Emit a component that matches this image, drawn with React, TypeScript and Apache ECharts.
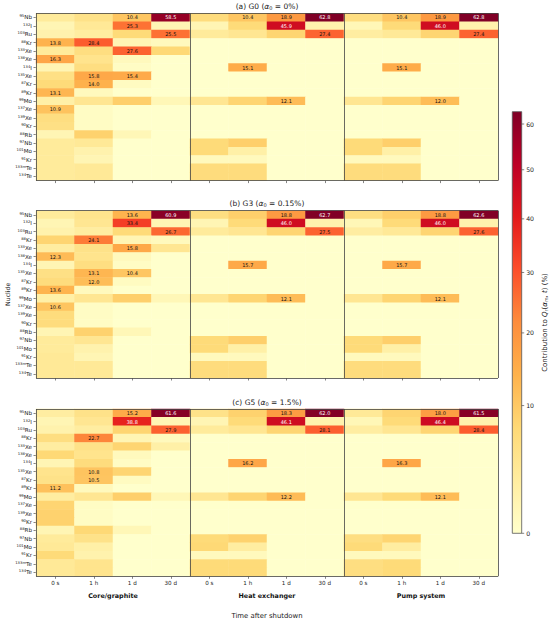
import React, { useEffect, useRef } from 'react';
import * as echarts from 'echarts';

const FONT = 'DejaVu Sans';

const NUC_MASS = ['95', '132', '103', '88', '133', '138', '134', '135', '87', '89', '99', '137', '139', '90', '88', '97', '101', '91', '133m', '134'];
const NUC_ELEM = ['Nb', 'I', 'Ru', 'Kr', 'Xe', 'Xe', 'I', 'Xe', 'Kr', 'Kr', 'Mo', 'Xe', 'Xe', 'Kr', 'Rb', 'Nb', 'Mo', 'Kr', 'Te', 'Te'];
const TIMES = ['0 s', '1 h', '1 d', '30 d'];
const GROUPS = ['Core/graphite', 'Heat exchanger', 'Pump system'];
const CB_TICKS = [0, 10, 20, 30, 40, 50, 60];
const YLORRD = ['#ffffcc', '#ffeda0', '#fed976', '#feb24c', '#fd8d3c', '#fc4e2a', '#e31a1c', '#bd0026', '#800026'];
const GAMMA = 0.65;
const VMAX = 62.8;

// rows follow NUC order; columns: 0 s, 1 h, 1 d, 30 d
const G0_core = [
  [3, 5, 10.4, 58.5], [1, 3.5, 25.3, 1], [1.5, 2.5, 7, 25.5], [13.8, 28.4, 1, 0.5], [3, 6, 27.6, 7.5],
  [16.3, 4.5, 0.5, 0], [1, 6, 0.2, 0], [5.5, 15.8, 15.4, 0], [7, 14.0, 0.3, 0], [13.1, 0.5, 0, 0],
  [2, 4, 9, 0.8], [10.9, 0.2, 0, 0], [6, 0.2, 0, 0], [5.5, 0.2, 0, 0], [1, 8.5, 0.8, 0],
  [3, 3.5, 0, 0], [3, 1.5, 0, 0], [3, 1, 0, 0], [3, 3.5, 0, 0], [3, 3.5, 0, 0],
];
const G0_hx = [
  [6.5, 10.4, 18.9, 62.8], [1, 7, 45.9, 1.5], [3, 4, 8, 27.4], [0, 0, 0, 0], [0, 0, 0, 0],
  [0, 0, 0, 0], [0, 15.1, 0, 0], [0, 0, 0, 0], [0, 0, 0, 0], [0, 0, 0, 0],
  [4, 8, 12.1, 0], [0, 0, 0, 0], [0, 0, 0, 0], [0, 0, 0, 0], [0, 0, 0, 0],
  [7, 9, 0, 0], [7, 2, 0, 0], [0.5, 0.5, 0, 0], [6.5, 6.5, 0, 0], [6.5, 6.5, 0, 0],
];
const G0_pump = [
  [6, 10.4, 18.9, 62.8], [0.8, 7, 46.0, 1.5], [2.5, 3.5, 8, 27.4], [0, 0, 0, 0], [0, 0, 0, 0],
  [0, 0, 0, 0], [0, 15.1, 0, 0], [0, 0, 0, 0], [0, 0, 0, 0], [0, 0, 0, 0],
  [4, 8, 12.0, 0], [0, 0, 0, 0], [0, 0, 0, 0], [0, 0, 0, 0], [0, 0, 0, 0],
  [7, 9, 0, 0], [7, 2, 0, 0], [0.5, 0.5, 0, 0], [6.5, 6.5, 0, 0], [6.5, 6.5, 0, 0],
];
const G3_core = [
  [3, 4.5, 13.6, 60.9], [1, 4, 33.4, 1], [1.5, 2.5, 7, 26.7], [8, 24.1, 1, 0.5], [2.5, 5, 15.8, 4],
  [12.3, 4.5, 0.5, 0], [1, 6, 0.2, 0], [5.5, 13.1, 10.4, 0], [6.5, 12.0, 0.3, 0], [13.6, 0.5, 0, 0],
  [2, 4, 9, 0.8], [10.6, 0.2, 0, 0], [6.5, 0.2, 0, 0], [6.5, 0.2, 0, 0], [1, 8.5, 0.8, 0],
  [3, 4, 0, 0], [3, 1.5, 0, 0], [3.5, 1, 0, 0], [3.5, 3.5, 0, 0], [3.5, 3.5, 0, 0],
];
const G3_hx = [
  [6, 9, 18.8, 62.7], [1, 7, 46.0, 1.5], [3, 4, 8, 27.5], [0, 0, 0, 0], [0, 0, 0, 0],
  [0, 0, 0, 0], [0, 15.7, 0, 0], [0, 0, 0, 0], [0, 0, 0, 0], [0, 0, 0, 0],
  [4, 8, 12.1, 0], [0, 0, 0, 0], [0, 0, 0, 0], [0, 0, 0, 0], [0, 0, 0, 0],
  [7, 9, 0, 0], [7, 2, 0, 0], [0.5, 0.5, 0, 0], [6.5, 6.5, 0, 0], [6.5, 6.5, 0, 0],
];
const G3_pump = [
  [6, 9, 18.8, 62.6], [0.8, 7, 46.0, 1.5], [2.5, 3.5, 8, 27.6], [0, 0, 0, 0], [0, 0, 0, 0],
  [0, 0, 0, 0], [0, 15.7, 0, 0], [0, 0, 0, 0], [0, 0, 0, 0], [0, 0, 0, 0],
  [4, 8, 12.1, 0], [0, 0, 0, 0], [0, 0, 0, 0], [0, 0, 0, 0], [0, 0, 0, 0],
  [7, 9, 0, 0], [7, 2, 0, 0], [0.5, 0.5, 0, 0], [6.5, 6.5, 0, 0], [6.5, 6.5, 0, 0],
];
const G5_core = [
  [2.5, 5, 15.2, 61.6], [1, 4, 38.8, 1], [1.5, 2.5, 8, 27.9], [6, 22.7, 1, 0.5], [2.5, 5, 8, 2],
  [7.5, 4.5, 0.5, 0], [1, 6.5, 0.2, 0], [4.5, 10.8, 8, 0], [5, 10.5, 0.3, 0], [11.2, 0.5, 0, 0],
  [2.5, 4, 9, 0.8], [8, 0.2, 0, 0], [8.5, 0.2, 0, 0], [8.5, 0.2, 0, 0], [1, 7.5, 0.8, 0],
  [3, 5, 0, 0], [3.5, 2, 0, 0], [7, 1.5, 0, 0], [3.5, 4.5, 0, 0], [3.5, 4.5, 0, 0],
];
const G5_hx = [
  [5, 8.5, 18.3, 62.0], [1, 7, 46.1, 1.5], [3, 4, 8, 28.1], [0, 0, 0, 0], [0, 0, 0, 0],
  [0, 0, 0, 0], [0, 16.2, 0, 0], [0, 0, 0, 0], [0, 0, 0, 0], [0, 0, 0, 0],
  [4, 8, 12.2, 0], [0, 0, 0, 0], [0, 0, 0, 0], [0, 0, 0, 0], [0, 0, 0, 0],
  [7, 8.5, 0, 0], [7.5, 2.5, 0, 0], [0.5, 0.5, 0, 0], [7, 7, 0, 0], [7, 7, 0, 0],
];
const G5_pump = [
  [3.5, 8, 18.0, 61.5], [0.8, 7, 46.4, 1.5], [2.5, 4, 8, 28.4], [0, 0, 0, 0], [0, 0, 0, 0],
  [0, 0, 0, 0], [0, 16.3, 0, 0], [0, 0, 0, 0], [0, 0, 0, 0], [0, 0, 0, 0],
  [4, 7, 12.1, 0], [0, 0, 0, 0], [0, 0, 0, 0], [0, 0, 0, 0], [0, 0, 0, 0],
  [6, 8, 0, 0], [7, 2.5, 0, 0], [0.5, 0.5, 0, 0], [6, 7, 0, 0], [6, 7, 0, 0],
];

const PANEL_TITLES = [
  '(a) G0 ({i|α}{s|0} = 0%)',
  '(b) G3 ({i|α}{s|0} = 0.15%)',
  '(c) G5 ({i|α}{s|0} = 1.5%)',
];
const PANEL_DATA = [
  [G0_core, G0_hx, G0_pump],
  [G3_core, G3_hx, G3_pump],
  [G5_core, G5_hx, G5_pump],
];

const GRID_LEFT = 36;
const GRID_WIDTH = 462;
const GRID_TOPS = [13.3, 210.7, 409];
const GRID_HEIGHT = 167.3;

const tf = (v: number) => Math.pow(v, GAMMA);
const TMAX = tf(VMAX);

function buildOption() {
  const grids: any[] = GRID_TOPS.map((top) => ({
    left: GRID_LEFT, top, width: GRID_WIDTH, height: GRID_HEIGHT, containLabel: false, outerBoundsMode: 'none',
  }));
  grids.push({ left: 512.3, top: 111.7, width: 9.4, height: 421.6, containLabel: false, outerBoundsMode: 'none' });

  const xCats: string[] = [];
  GROUPS.forEach((g, gi) => TIMES.forEach((t) => xCats.push(gi + '|' + t)));
  const yCats = NUC_MASS.map((m, i) => m + NUC_ELEM[i]);

  const xAxis: any[] = [];
  const yAxis: any[] = [];
  const series: any[] = [];

  PANEL_DATA.forEach((groups, p) => {
    xAxis.push({
      type: 'category', gridIndex: p, data: xCats, position: 'bottom',
      axisLine: { show: false },
      axisTick: { show: true, alignWithLabel: true, length: 2.5, interval: 0, lineStyle: { color: '#333', width: 0.6 } },
      axisLabel: {
        show: p === 2, interval: 0, fontSize: 5.6, color: '#222', margin: 4, fontFamily: FONT,
        formatter: (v: string) => v.split('|')[1],
      },
      splitLine: { show: false },
    });
    xAxis.push({
      type: 'value', gridIndex: p, min: 0, max: 12, interval: 4, position: 'top', z: 10,
      axisLine: { show: false }, axisTick: { show: false }, axisLabel: { show: false },
      splitLine: { show: true, lineStyle: { color: '#444', width: 0.8 } },
      name: PANEL_TITLES[p], nameLocation: 'middle', nameGap: 3,
      nameTextStyle: {
        fontSize: 7.5, color: '#222', fontFamily: FONT,
        rich: {
          i: { fontSize: 7.5, fontStyle: 'italic', color: '#222', fontFamily: FONT },
          s: { fontSize: 5, color: '#222', fontFamily: FONT, padding: [3, 0, 0, 0] },
        },
      },
    });
    yAxis.push({
      type: 'category', gridIndex: p, data: yCats, inverse: true,
      axisLine: { show: false },
      axisTick: { show: true, alignWithLabel: true, length: 2.5, interval: 0, lineStyle: { color: '#333', width: 0.6 } },
      axisLabel: {
        interval: 0, margin: 4, color: '#222', fontFamily: FONT, fontSize: 5.6,
        formatter: (_v: string, i: number) => `{s|${NUC_MASS[i]}}{e|${NUC_ELEM[i]}}`,
        rich: {
          s: { fontSize: 3.8, color: '#222', fontFamily: FONT, padding: [0, 0, 3, 0] },
          e: { fontSize: 5.6, color: '#222', fontFamily: FONT },
        },
      },
      splitLine: { show: false },
      name: p === 1 ? 'Nuclide' : '', nameLocation: 'middle', nameGap: 26, nameRotate: 90,
      nameMoveOverlap: false,
      nameTextStyle: { fontSize: 6.2, color: '#222', fontFamily: FONT },
    });
    yAxis.push({
      type: 'value', gridIndex: p, min: 0, max: 1, interval: 1, position: 'right', z: 10,
      axisLine: { show: false }, axisTick: { show: false }, axisLabel: { show: false },
      splitLine: { show: true, lineStyle: { color: '#444', width: 0.8 } },
    });

    const data: any[] = [];
    groups.forEach((rows, gi) => {
      rows.forEach((vals, r) => {
        vals.forEach((v, t) => {
          data.push({
            value: [gi * 4 + t, r, tf(v), v],
            label: { color: v > 36 ? '#ffffff' : '#111111' },
          });
        });
      });
    });
    series.push({
      type: 'heatmap', xAxisIndex: 2 * p, yAxisIndex: 2 * p, data,
      progressive: 0,
      label: {
        show: true, fontSize: 5, fontFamily: FONT,
        formatter: (prm: any) => (prm.value[3] >= 10 ? prm.value[3].toFixed(1) : ''),
      },
      itemStyle: { borderWidth: 0 },
      emphasis: { disabled: true },
    });
  });

  // group labels + overall x title (panel c)  -> xAxis index 6
  xAxis.push({
    type: 'category', gridIndex: 2, data: GROUPS, position: 'bottom', offset: 13,
    axisLine: { show: false }, axisTick: { show: false },
    axisLabel: { interval: 0, fontSize: 6.4, fontWeight: 'bold', color: '#111', margin: 4, fontFamily: FONT },
    name: 'Time after shutdown', nameLocation: 'middle', nameGap: 23,
    nameTextStyle: { fontSize: 6.9, color: '#222', fontFamily: FONT },
  });
  // colorbar axes -> xAxis index 7, yAxis index 6
  xAxis.push({ type: 'value', gridIndex: 3, min: 0, max: 1, show: false });
  yAxis.push({
    type: 'value', gridIndex: 3, min: 0, max: TMAX, position: 'right',
    axisLine: { show: false }, axisTick: { show: false }, axisLabel: { show: false }, splitLine: { show: false },
    name: 'Contribution to {i|Q}{s|r}({i|α}{s|m}, {i|t}) (%)', nameLocation: 'middle', nameGap: 19, nameRotate: 90,
    nameTextStyle: {
      fontSize: 7, color: '#222', fontFamily: FONT,
      rich: {
        i: { fontSize: 7, fontStyle: 'italic', color: '#222', fontFamily: FONT },
        s: { fontSize: 4.8, color: '#222', fontFamily: FONT, padding: [3, 0, 0, 0] },
      },
    },
  });

  const stops = YLORRD.map((c, i) => ({ offset: i / (YLORRD.length - 1), color: c }));
  series.push({
    type: 'custom', xAxisIndex: 7, yAxisIndex: 6, data: [[0, 0]], clip: false, silent: true,
    renderItem: (_params: any, api: any) => {
      const p0 = api.coord([0, 0]);
      const p1 = api.coord([1, TMAX]);
      return {
        type: 'rect',
        shape: { x: p0[0], y: p1[1], width: p1[0] - p0[0], height: p0[1] - p1[1] },
        style: { fill: new echarts.graphic.LinearGradient(0, 1, 0, 0, stops), stroke: '#555', lineWidth: 0.8 },
      };
    },
  });
  series.push({
    type: 'custom', xAxisIndex: 7, yAxisIndex: 6, clip: false, silent: true,
    data: CB_TICKS.map((v) => [1, tf(v), v]),
    renderItem: (_params: any, api: any) => {
      const p = api.coord([api.value(0), api.value(1)]);
      return {
        type: 'group',
        children: [
          { type: 'line', shape: { x1: p[0], y1: p[1], x2: p[0] + 2.5, y2: p[1] }, style: { stroke: '#333', lineWidth: 0.6 } },
          {
            type: 'text',
            style: {
              text: String(api.value(2)), x: p[0] + 4.5, y: p[1], fontSize: 6.2, fontFamily: FONT,
              fill: '#222', verticalAlign: 'middle', align: 'left',
            },
          },
        ],
      };
    },
  });

  return {
    animation: false,
    backgroundColor: '#ffffff',
    textStyle: { fontFamily: FONT },
    grid: grids,
    xAxis,
    yAxis,
    visualMap: {
      type: 'continuous', show: false, min: 0, max: TMAX, dimension: 2, seriesIndex: [0, 1, 2],
      inRange: { color: YLORRD },
    },
    series,
  };
}

export default function App() {
  const ref = useRef<HTMLDivElement>(null);
  useEffect(() => {
    const chart = echarts.init(ref.current!, null, { renderer: 'svg' });
    chart.setOption(buildOption() as any);
    return () => chart.dispose();
  }, []);
  return (
    <div
      ref={ref}
      style={{ position: 'fixed', left: 0, top: 0, width: 550, height: 623, background: '#fff' }}
    />
  );
}
